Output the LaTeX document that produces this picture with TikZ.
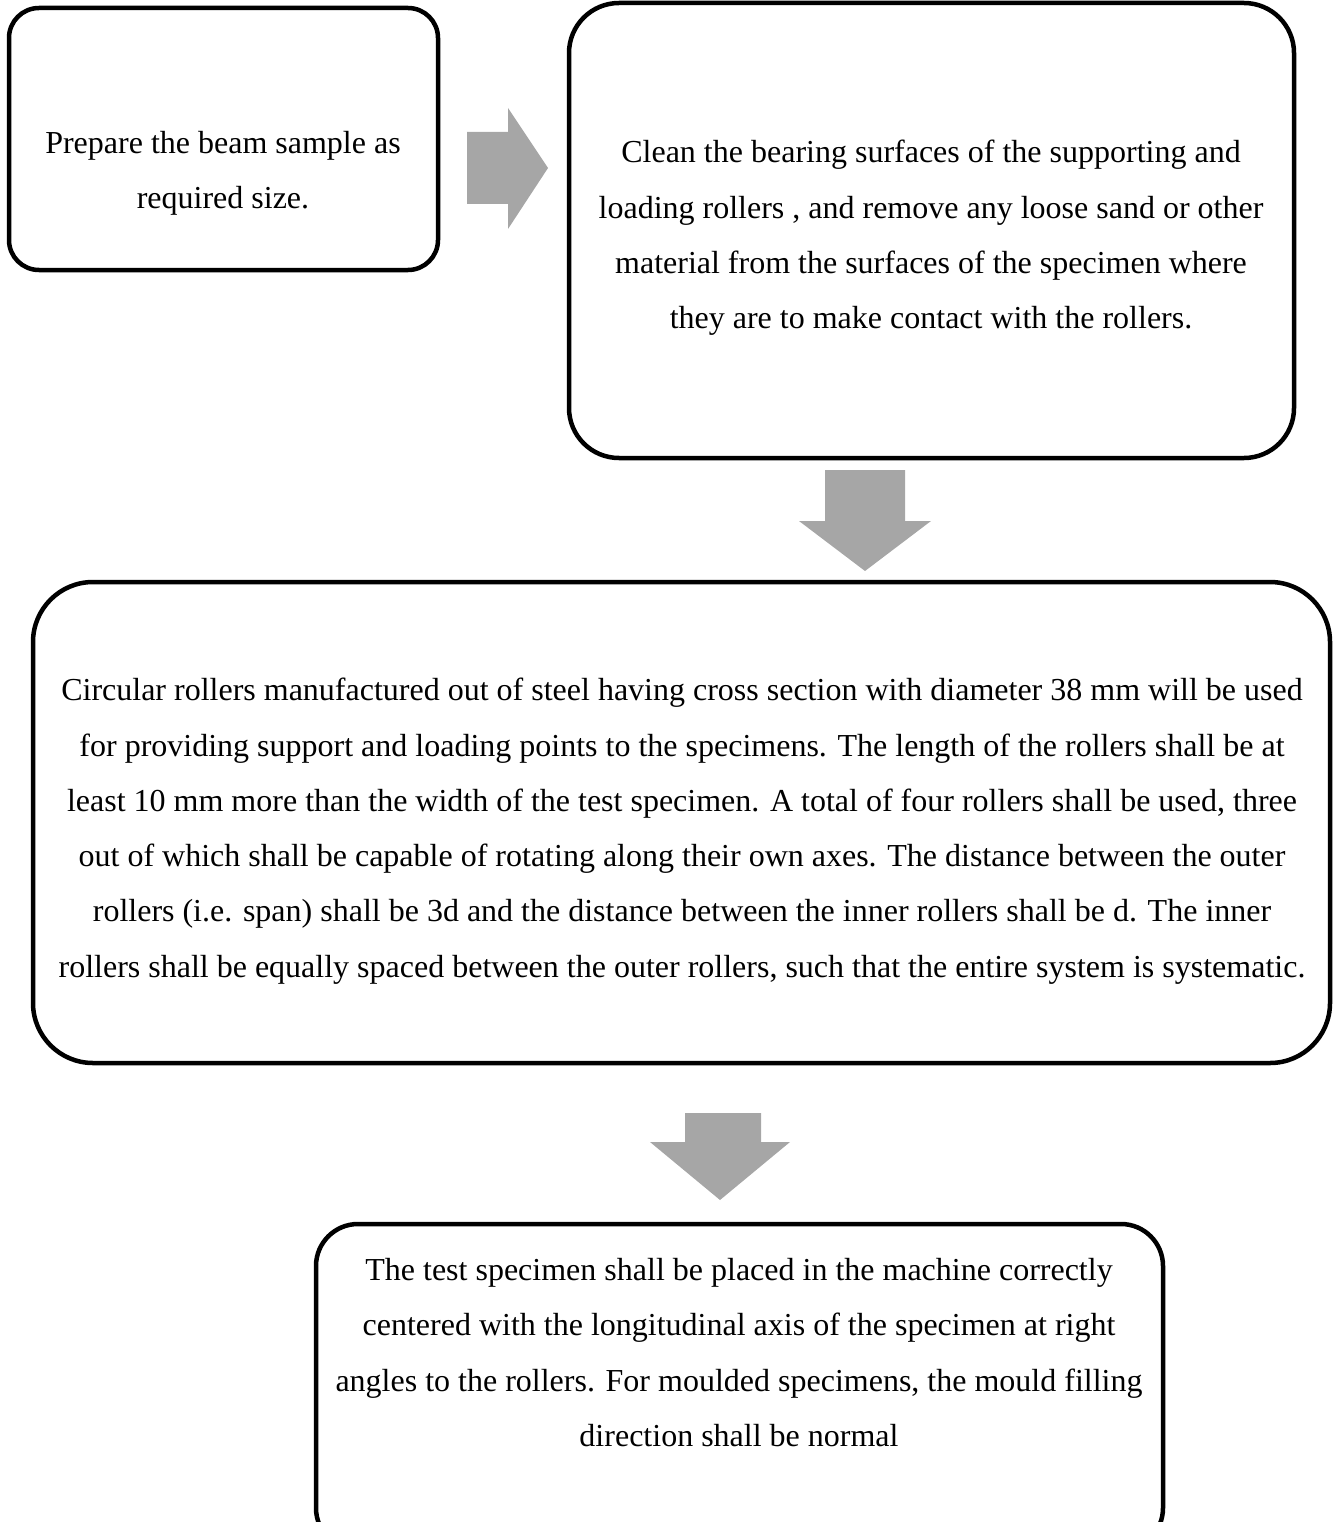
\documentclass[tikz,border=0pt]{standalone}
\usepackage{fontspec}
\setmainfont{Liberation Serif}
\begin{document}
\begin{tikzpicture}[x=1pt,y=-1pt,
  box/.style={draw=black,line width=4.5pt,rounded corners=#1},
  txt/.style={align=center,font=\fontsize{32}{55.3}\selectfont,inner sep=0pt,anchor=north},
  blockarrow/.style={fill=arrowgray,draw=none}]
\definecolor{arrowgray}{HTML}{A6A6A6}
\useasboundingbox (0,0) rectangle (1339,1522);
% boxes
\draw[box=30pt] (9,8) rectangle (438,270);
\draw[box=50pt] (569,3) rectangle (1294,458);
\draw[box=60pt] (33,582) rectangle (1330,1063);
\draw[box=42pt] (316,1224) rectangle (1163,1550);
% texts
\node[txt] (t1) at (223,131) {Prepare the beam sample as\\required size.};
\node[txt] (t2) at (931,140) {Clean the bearing surfaces of the supporting and\\loading rollers , and remove any loose sand or other\\material from the surfaces of the specimen where\\they are to make contact with the rollers.};
\node[txt] (t3) at (682,678) {Circular rollers manufactured out of steel having cross section with diameter 38 mm will be used\\for providing support and loading points to the specimens. The length of the rollers shall be at\\least 10 mm more than the width of the test specimen. A total of four rollers shall be used, three\\out of which shall be capable of rotating along their own axes. The distance between the outer\\rollers (i.e. span) shall be 3d and the distance between the inner rollers shall be d. The inner\\rollers shall be equally spaced between the outer rollers, such that the entire system is systematic.};
\node[txt] (t4) at (739,1258) {The test specimen shall be placed in the machine correctly\\centered with the longitudinal axis of the specimen at right\\angles to the rollers. For moulded specimens, the mould filling\\direction shall be normal};
% block arrows
\fill[blockarrow] (467,132) -- (508,132) -- (508,108) -- (548,168) -- (508,229) -- (508,204) -- (467,204) -- cycle;
\fill[blockarrow] (825,470) -- (905,470) -- (905,521) -- (931,521) -- (865,571) -- (799,521) -- (825,521) -- cycle;
\fill[blockarrow] (685,1113) -- (761,1113) -- (761,1142) -- (790,1142) -- (720,1200) -- (650,1142) -- (685,1142) -- cycle;
\end{tikzpicture}
\end{document}
